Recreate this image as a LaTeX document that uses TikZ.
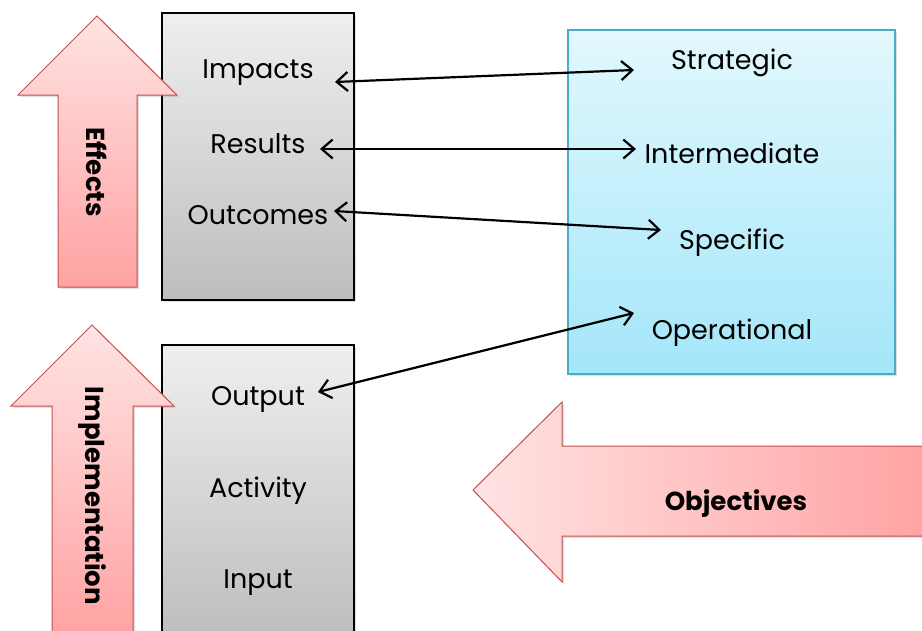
\documentclass[tikz,border=0pt]{standalone}
\usepackage{fontspec}
\setmainfont{Poppins}
\usetikzlibrary{arrows.meta,shadows}
\definecolor{arrowedge}{HTML}{C0504D}
\definecolor{pinklight}{HTML}{FFE3E3}
\definecolor{pinkdark}{HTML}{FFA2A2}
\definecolor{greytop}{HTML}{EFEFEF}
\definecolor{greybot}{HTML}{BDBDBD}
\definecolor{bluetop}{HTML}{E2F8FD}
\definecolor{bluebot}{HTML}{A4E6FA}
\definecolor{blueedge}{HTML}{4BACC6}
\tikzset{
  bigarrow/.style={draw=arrowedge, line width=1pt, line join=miter,
    drop shadow={shadow xshift=2pt, shadow yshift=-2pt, opacity=0.25}},
  greybox/.style={draw=black, line width=1.2pt, top color=greytop, bottom color=greybot,
    drop shadow={shadow xshift=2pt, shadow yshift=-2pt, opacity=0.25}},
  bluebox/.style={draw=blueedge, line width=1.2pt, top color=bluetop, bottom color=bluebot,
    drop shadow={shadow xshift=2pt, shadow yshift=-2pt, opacity=0.25}},
  lbl/.style={font=\fontsize{27}{32}\selectfont, inner sep=0pt, yshift=-3pt},
  arlbl/.style={font=\fontsize{26}{30}\selectfont\bfseries, inner sep=0pt},
  link/.style={line width=2.2pt, {Straight Barb[length=11pt,width=19pt]}-{Straight Barb[length=11pt,width=19pt]}}
}
\begin{document}
\begin{tikzpicture}[x=1pt, y=-1pt]
\useasboundingbox[fill=white] (0,0) rectangle (922,630);

% grey boxes
\path[greybox] (162,13) rectangle (354,300);
\path[greybox] (162,345) rectangle (354,640);

% blue box
\path[bluebox] (568,30) rectangle (895,374);

% upward "Effects" arrow
\path[bigarrow, top color=pinklight, bottom color=pinkdark]
  (97,16) -- (177,95) -- (137,95) -- (137,287) -- (58,287) -- (58,95) -- (18,95) -- cycle;
\node[arlbl, rotate=-90] (effects) at (97,172) {Effects};

% upward "Implementation" arrow
\path[bigarrow, top color=pinklight, bottom color=pinkdark]
  (92,325) -- (174,406) -- (133,406) -- (133,640) -- (52,640) -- (52,406) -- (11,406) -- cycle;
\node[arlbl, rotate=-90] (impl) at (92,496) {Implementation};

% leftward "Objectives" arrow
\path[bigarrow, left color=pinklight, right color=pinkdark]
  (473,490) -- (562,402) -- (562,446) -- (935,446) -- (935,536) -- (562,536) -- (562,582) -- cycle;
\node[arlbl] (objectives) at (736,504) {Objectives};

% left column labels
\node[lbl] (impacts) at (258,70) {Impacts};
\node[lbl] (results) at (258,141) {Results};
\node[lbl] (outcomes) at (258,212) {Outcomes};
\node[lbl] (output) at (258,396) {Output};
\node[lbl] (activity) at (258,488) {Activity};
\node[lbl] (input) at (258,580) {Input};

% right column labels
\node[lbl] (strategic) at (732,60) {Strategic};
\node[lbl] (intermediate) at (732,150) {Intermediate};
\node[lbl] (specific) at (732,240) {Specific};
\node[lbl] (operational) at (732,330) {Operational};

% connector end points
\coordinate (impR) at (335,82);
\coordinate (strL) at (634,70);
\coordinate (resR) at (320,149);
\coordinate (intL) at (636,149);
\coordinate (outcR) at (334,211);
\coordinate (speL) at (661,230);
\coordinate (outpR) at (318,392);
\coordinate (opeL) at (634,313);

\draw[link] (impR) -- (strL);
\draw[link] (resR) -- (intL);
\draw[link] (outcR) -- (speL);
\draw[link] (outpR) -- (opeL);
\end{tikzpicture}
\end{document}
